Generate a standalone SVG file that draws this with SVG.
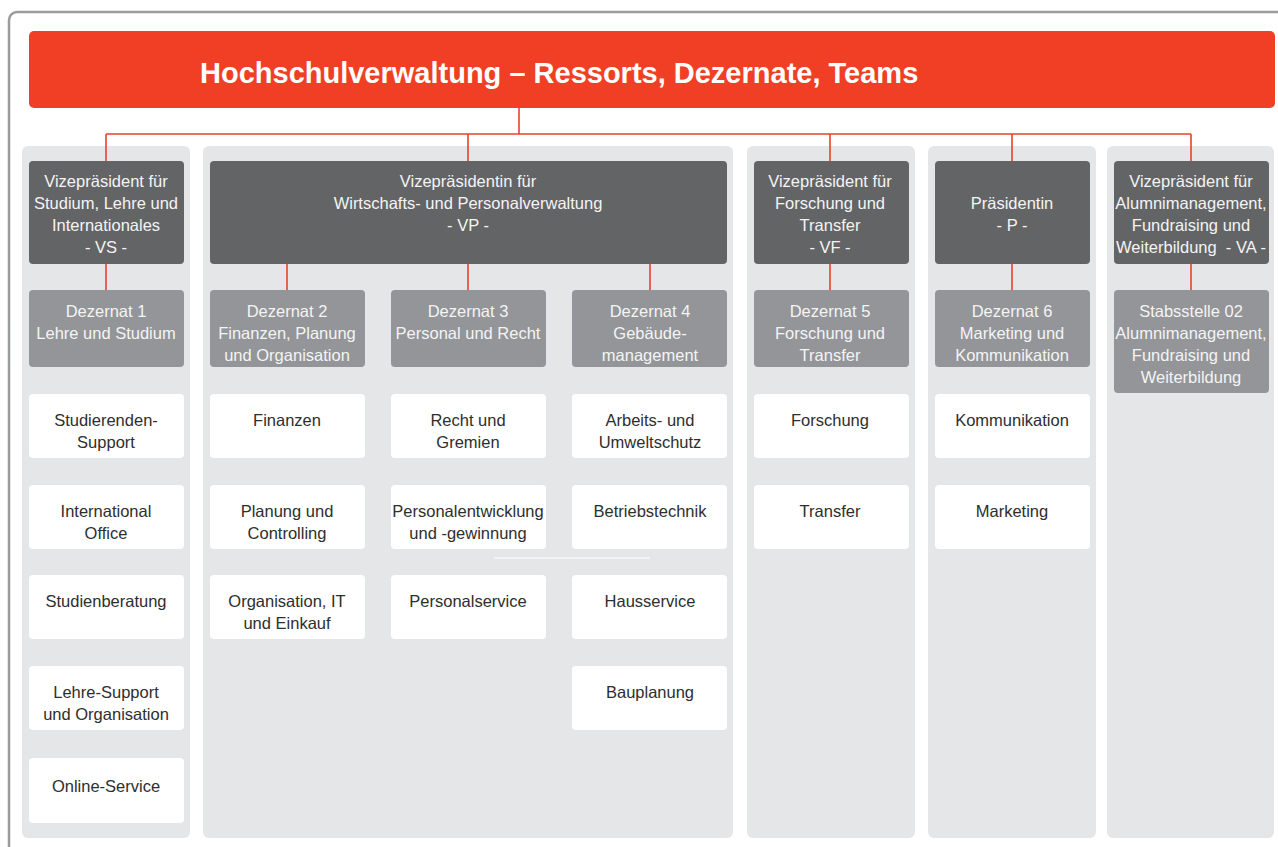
<svg xmlns="http://www.w3.org/2000/svg" width="1278" height="847" viewBox="0 0 1278 847">
<style>
.frame{fill:#fff;stroke:#9a9b9d;stroke-width:2.5}
.col{fill:#e5e6e8}
.vp{fill:#636466}
.dz{fill:#939598}
.tm{fill:#fff}
.t{font-family:"Liberation Sans",Arial,sans-serif;font-size:16.5px;text-anchor:middle;white-space:pre}
.lt{fill:#f4f4f4}
.dk{fill:#2e2e2e}
.conn line{stroke:#e8412a;stroke-width:1.6}
</style>
<rect class="frame" x="9" y="12" width="1290" height="860" rx="8"/>
<g id="title">
<rect x="29" y="31" width="1246" height="77" rx="5" fill="#f03f24"/>
<text x="200" y="83" font-family="'Liberation Sans',Arial,sans-serif" font-size="29" font-weight="bold" fill="#fff">Hochschulverwaltung – Ressorts, Dezernate, Teams</text>
</g>
<g id="columns">
<rect class="col" x="22" y="146" width="168" height="692" rx="6"/>
<rect class="col" x="203" y="146" width="530" height="692" rx="6"/>
<rect class="col" x="747" y="146" width="168" height="692" rx="6"/>
<rect class="col" x="928" y="146" width="168" height="692" rx="6"/>
<rect class="col" x="1107" y="146" width="167" height="692" rx="6"/>
</g>
<g class="conn" id="connectors">
<line x1="519" y1="108" x2="519" y2="134"/>
<line x1="106" y1="134" x2="1191" y2="134"/>
<line x1="106" y1="134" x2="106" y2="161"/>
<line x1="468" y1="134" x2="468" y2="161"/>
<line x1="830" y1="134" x2="830" y2="161"/>
<line x1="1012" y1="134" x2="1012" y2="161"/>
<line x1="1191" y1="134" x2="1191" y2="161"/>
<line x1="106" y1="264" x2="106" y2="290"/>
<line x1="287" y1="264" x2="287" y2="290"/>
<line x1="468" y1="264" x2="468" y2="290"/>
<line x1="650" y1="264" x2="650" y2="290"/>
<line x1="830" y1="264" x2="830" y2="290"/>
<line x1="1012" y1="264" x2="1012" y2="290"/>
<line x1="1191" y1="264" x2="1191" y2="290"/>
</g>
<line x1="494" y1="558" x2="650" y2="558" stroke="#fff" stroke-width="1.2"/>
<g id="vs"><rect class="vp" x="29" y="161" width="155" height="103" rx="4"/>
<text class="t lt"><tspan x="106" y="187">Vizepräsident für</tspan><tspan x="106" y="209">Studium, Lehre und</tspan><tspan x="106" y="231">Internationales</tspan><tspan x="106" y="253">- VS -</tspan></text></g>
<g id="vpw"><rect class="vp" x="210" y="161" width="517" height="103" rx="4"/>
<text class="t lt"><tspan x="468" y="187">Vizepräsidentin für</tspan><tspan x="468" y="209">Wirtschafts- und Personalverwaltung</tspan><tspan x="468" y="231">- VP -</tspan></text></g>
<g id="vf"><rect class="vp" x="754" y="161" width="155" height="103" rx="4"/>
<text class="t lt"><tspan x="830" y="187">Vizepräsident für</tspan><tspan x="830" y="209">Forschung und</tspan><tspan x="830" y="231">Transfer</tspan><tspan x="830" y="253">- VF -</tspan></text></g>
<g id="p"><rect class="vp" x="935" y="161" width="155" height="103" rx="4"/>
<text class="t lt"><tspan x="1012" y="209">Präsidentin</tspan><tspan x="1012" y="231">- P -</tspan></text></g>
<g id="va"><rect class="vp" x="1114" y="161" width="155" height="103" rx="4"/>
<text class="t lt"><tspan x="1191" y="187">Vizepräsident für</tspan><tspan x="1191" y="209">Alumnimanagement,</tspan><tspan x="1191" y="231">Fundraising und</tspan><tspan x="1191" y="253">Weiterbildung  - VA -</tspan></text></g>
<g id="dz1"><rect class="dz" x="29" y="290" width="155" height="77" rx="4"/>
<text class="t lt"><tspan x="106" y="317">Dezernat 1</tspan><tspan x="106" y="339">Lehre und Studium</tspan></text></g>
<g id="dz2"><rect class="dz" x="210" y="290" width="155" height="77" rx="4"/>
<text class="t lt"><tspan x="287" y="317">Dezernat 2</tspan><tspan x="287" y="339">Finanzen, Planung</tspan><tspan x="287" y="361">und Organisation</tspan></text></g>
<g id="dz3"><rect class="dz" x="391" y="290" width="155" height="77" rx="4"/>
<text class="t lt"><tspan x="468" y="317">Dezernat 3</tspan><tspan x="468" y="339">Personal und Recht</tspan></text></g>
<g id="dz4"><rect class="dz" x="572" y="290" width="155" height="77" rx="4"/>
<text class="t lt"><tspan x="650" y="317">Dezernat 4</tspan><tspan x="650" y="339">Gebäude-</tspan><tspan x="650" y="361">management</tspan></text></g>
<g id="dz5"><rect class="dz" x="754" y="290" width="155" height="77" rx="4"/>
<text class="t lt"><tspan x="830" y="317">Dezernat 5</tspan><tspan x="830" y="339">Forschung und</tspan><tspan x="830" y="361">Transfer</tspan></text></g>
<g id="dz6"><rect class="dz" x="935" y="290" width="155" height="77" rx="4"/>
<text class="t lt"><tspan x="1012" y="317">Dezernat 6</tspan><tspan x="1012" y="339">Marketing und</tspan><tspan x="1012" y="361">Kommunikation</tspan></text></g>
<g id="st02"><rect class="dz" x="1114" y="290" width="155" height="103" rx="4"/>
<text class="t lt"><tspan x="1191" y="317">Stabsstelle 02</tspan><tspan x="1191" y="339">Alumnimanagement,</tspan><tspan x="1191" y="361">Fundraising und</tspan><tspan x="1191" y="383">Weiterbildung</tspan></text></g>
<g id="t-studsupport"><rect class="tm" x="29" y="394" width="155" height="64" rx="4"/><text class="t dk"><tspan x="106" y="426">Studierenden-</tspan><tspan x="106" y="448">Support</tspan></text></g>
<g id="t-intoffice"><rect class="tm" x="29" y="485" width="155" height="64" rx="4"/><text class="t dk"><tspan x="106" y="517">International</tspan><tspan x="106" y="539">Office</tspan></text></g>
<g id="t-studberatung"><rect class="tm" x="29" y="575" width="155" height="64" rx="4"/><text class="t dk"><tspan x="106" y="607">Studienberatung</tspan></text></g>
<g id="t-lehresupport"><rect class="tm" x="29" y="666" width="155" height="64" rx="4"/><text class="t dk"><tspan x="106" y="698">Lehre-Support</tspan><tspan x="106" y="720">und Organisation</tspan></text></g>
<g id="t-online"><rect class="tm" x="29" y="758" width="155" height="65" rx="4"/><text class="t dk"><tspan x="106" y="792">Online-Service</tspan></text></g>
<g id="t-finanzen"><rect class="tm" x="210" y="394" width="155" height="64" rx="4"/><text class="t dk"><tspan x="287" y="426">Finanzen</tspan></text></g>
<g id="t-planung"><rect class="tm" x="210" y="485" width="155" height="64" rx="4"/><text class="t dk"><tspan x="287" y="517">Planung und</tspan><tspan x="287" y="539">Controlling</tspan></text></g>
<g id="t-orgit"><rect class="tm" x="210" y="575" width="155" height="64" rx="4"/><text class="t dk"><tspan x="287" y="607">Organisation, IT</tspan><tspan x="287" y="629">und Einkauf</tspan></text></g>
<g id="t-recht"><rect class="tm" x="391" y="394" width="155" height="64" rx="4"/><text class="t dk"><tspan x="468" y="426">Recht und</tspan><tspan x="468" y="448">Gremien</tspan></text></g>
<g id="t-persentw"><rect class="tm" x="391" y="485" width="155" height="64" rx="4"/><text class="t dk"><tspan x="468" y="517">Personalentwicklung</tspan><tspan x="468" y="539">und -gewinnung</tspan></text></g>
<g id="t-persservice"><rect class="tm" x="391" y="575" width="155" height="64" rx="4"/><text class="t dk"><tspan x="468" y="607">Personalservice</tspan></text></g>
<g id="t-arbeitsschutz"><rect class="tm" x="572" y="394" width="155" height="64" rx="4"/><text class="t dk"><tspan x="650" y="426">Arbeits- und</tspan><tspan x="650" y="448">Umweltschutz</tspan></text></g>
<g id="t-betriebstechnik"><rect class="tm" x="572" y="485" width="155" height="64" rx="4"/><text class="t dk"><tspan x="650" y="517">Betriebstechnik</tspan></text></g>
<g id="t-hausservice"><rect class="tm" x="572" y="575" width="155" height="64" rx="4"/><text class="t dk"><tspan x="650" y="607">Hausservice</tspan></text></g>
<g id="t-bauplanung"><rect class="tm" x="572" y="666" width="155" height="64" rx="4"/><text class="t dk"><tspan x="650" y="698">Bauplanung</tspan></text></g>
<g id="t-forschung"><rect class="tm" x="754" y="394" width="155" height="64" rx="4"/><text class="t dk"><tspan x="830" y="426">Forschung</tspan></text></g>
<g id="t-transfer"><rect class="tm" x="754" y="485" width="155" height="64" rx="4"/><text class="t dk"><tspan x="830" y="517">Transfer</tspan></text></g>
<g id="t-kommunikation"><rect class="tm" x="935" y="394" width="155" height="64" rx="4"/><text class="t dk"><tspan x="1012" y="426">Kommunikation</tspan></text></g>
<g id="t-marketing"><rect class="tm" x="935" y="485" width="155" height="64" rx="4"/><text class="t dk"><tspan x="1012" y="517">Marketing</tspan></text></g>
</svg>
